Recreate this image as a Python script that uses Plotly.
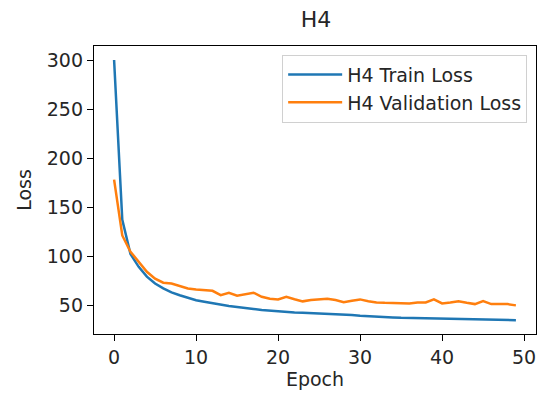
import plotly.graph_objects as go

epochs = list(range(50))
train_loss = [300, 137, 102, 89, 79, 72, 67, 63, 60, 57.5,
              55, 53.4, 51.7, 50, 49, 48, 47.3, 46, 45, 44.2,
              43.6, 42.9, 42.4, 42.3, 42.0, 41.6, 41.3, 40.8, 40.1, 39.8,
              39.1, 38.5, 38, 37.8, 37.4, 37, 36.8, 36.6, 36.3, 36,
              35.8, 35.7, 35.6, 35.4, 35.3, 35.1, 35, 34.8, 34.7, 34.6]
val_loss = [178, 121, 104.4, 94, 84, 77, 72.8, 72, 69.4, 67,
            65.8, 65.3, 64.6, 60.2, 62.6, 59.5, 60.9, 62.6, 58.5, 56.5,
            55.8, 58.5, 56, 53.8, 55.1, 55.8, 56.5, 55.1, 53, 54.4,
            55.8, 54, 52.7, 52.3, 52.3, 52, 51.7, 52.7, 52.7, 55.8,
            51.7, 52.7, 54, 52.3, 51, 54, 51, 51, 51, 49.7]

fig = go.Figure()
fig.add_trace(go.Scatter(x=epochs, y=train_loss, mode="lines", name="H4 Train Loss",
                         line=dict(color="#1f77b4", width=2.5)))
fig.add_trace(go.Scatter(x=epochs, y=val_loss, mode="lines", name="H4 Validation Loss",
                         line=dict(color="#ff7f0e", width=2.5)))

font = dict(family="DejaVu Sans", size=19, color="#262626")
axis_common = dict(showgrid=False, zeroline=False, showline=True, linecolor="black",
                   linewidth=1.3, mirror=True, ticks="outside", ticklen=6, tickwidth=1.3,
                   tickcolor="black", tickfont=font, automargin=False)

fig.update_layout(
    width=542, height=394,
    margin=dict(l=94, r=6, t=46, b=60),
    paper_bgcolor="white", plot_bgcolor="white",
    font=font,
    title=dict(text="H4", x=0.5829, xanchor="center", y=0.95, yanchor="middle",
               font=dict(family="DejaVu Sans", size=22, color="#262626")),
    xaxis=dict(range=[-2.45, 51.45], tickvals=[0, 10, 20, 30, 40, 50],
               title=dict(text="Epoch", font=font, standoff=4), **axis_common),
    yaxis=dict(range=[20.5, 314.3], tickvals=[50, 100, 150, 200, 250, 300],
               title=dict(text="Loss", font=font, standoff=10), **axis_common),
    legend=dict(x=0.98, xanchor="right", y=0.97, yanchor="top",
                bgcolor="white", bordercolor="#d0d0d0", borderwidth=1,
                font=font, itemwidth=54, tracegroupgap=0),
    showlegend=True,
)

fig.write_html("out.html", config={"displayModeBar": False},
               post_script="document.body.style.margin='0px';document.body.style.overflow='hidden';")
